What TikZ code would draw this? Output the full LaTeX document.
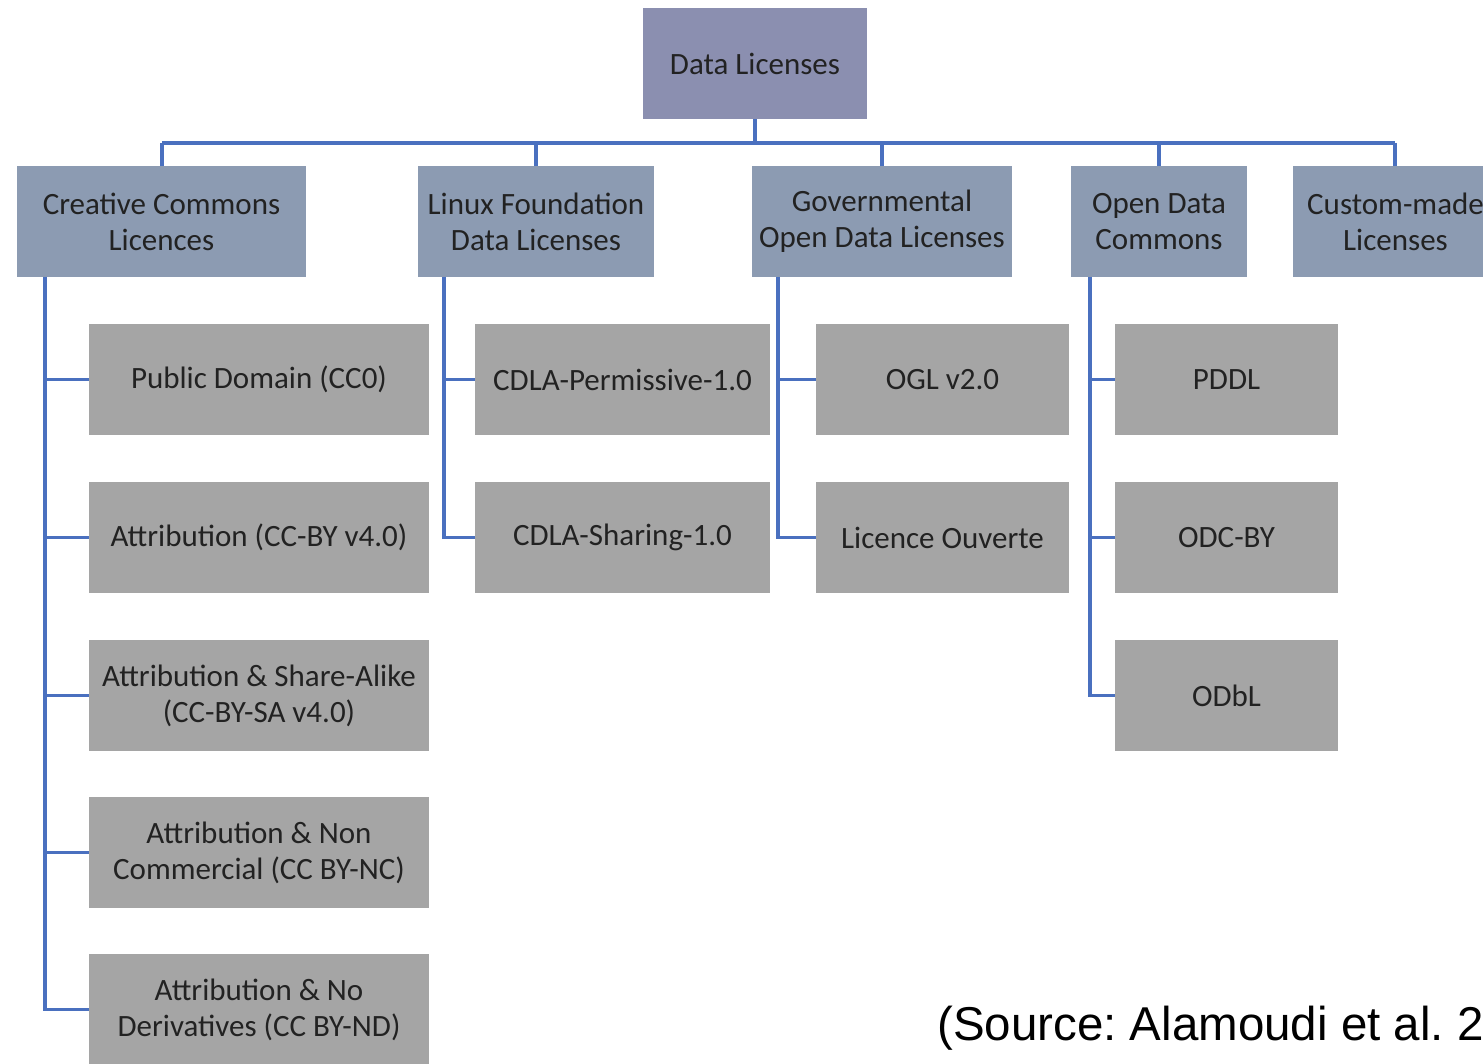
\documentclass[tikz,border=0pt]{standalone}
\usepackage{fontspec}
\setmainfont{Carlito}
\newfontfamily\srcfont{Liberation Sans}
\definecolor{rootfill}{HTML}{8B8FB0}
\definecolor{catfill}{HTML}{8C9BB2}
\definecolor{leaffill}{HTML}{A5A5A5}
\definecolor{linkblue}{HTML}{4A70BF}
\definecolor{txt}{HTML}{222222}
\begin{document}
\frenchspacing
\begin{tikzpicture}[x=1pt,y=-1pt,
  box/.style={rectangle,inner sep=0pt,align=center,text=txt,
    font=\fontsize{31}{36}\selectfont,minimum height=111pt},
  rootbox/.style={box,fill=rootfill},
  catbox/.style={box,fill=catfill},
  leafbox/.style={box,fill=leaffill},
  conn/.style={draw=linkblue,line width=3.8pt}]
\useasboundingbox (0,0) rectangle (1483,1064);
\clip (0,0) rectangle (1483,1064);
% root
\node[rootbox,minimum width=224pt] (root) at (755,63.5) {Data Licenses};
% categories
\node[catbox,minimum width=289pt] (cc) at (161.5,221.5) {Creative Commons\\Licences};
\node[catbox,minimum width=236pt] (lf) at (536,221.5) {Linux Foundation\\Data Licenses};
\node[catbox,minimum width=260pt] (gov) at (882,221.5) {Governmental\\Open Data Licenses};
\node[catbox,minimum width=176pt] (odc) at (1159,221.5) {Open Data\\Commons};
\node[catbox,minimum width=205pt] (cus) at (1395.5,221.5) {Custom-made\\Licenses};
% CC leaves
\node[leafbox,minimum width=340pt] (cc1) at (259,379.5) {Public Domain (CC0)};
\node[leafbox,minimum width=340pt] (cc2) at (259,537.5) {Attribution (CC-BY v4.0)};
\node[leafbox,minimum width=340pt] (cc3) at (259,695.5) {Attribution \& Share-Alike\\(CC-BY-SA v4.0)};
\node[leafbox,minimum width=340pt] (cc4) at (259,852.5) {Attribution \& Non\\Commercial (CC BY-NC)};
\node[leafbox,minimum width=340pt] (cc5) at (259,1009.5) {Attribution \& No\\Derivatives (CC BY-ND)};
% Linux leaves
\node[leafbox,minimum width=295pt] (lf1) at (622.5,379.5) {CDLA-Permissive-1.0};
\node[leafbox,minimum width=295pt] (lf2) at (622.5,537.5) {CDLA-Sharing-1.0};
% Gov leaves
\node[leafbox,minimum width=253pt] (gov1) at (942.5,379.5) {OGL v2.0};
\node[leafbox,minimum width=253pt] (gov2) at (942.5,537.5) {Licence Ouverte};
% ODC leaves
\node[leafbox,minimum width=223pt] (odc1) at (1226.5,379.5) {PDDL};
\node[leafbox,minimum width=223pt] (odc2) at (1226.5,537.5) {ODC-BY};
\node[leafbox,minimum width=223pt] (odc3) at (1226.5,695.5) {ODbL};
% bus coordinates
\coordinate (busL) at (162,143);
\coordinate (busR) at (1395,143);
\coordinate (ccv) at (45,277);
\coordinate (lfv) at (444,277);
\coordinate (govv) at (778,277);
\coordinate (odcv) at (1090,277);
% top connectors
\draw[conn] (root.south) -- (root.south |- busL);
\draw[conn] (busL) -- (busR);
\draw[conn] (busL) -- (cc.north -| busL);
\draw[conn] (lf.north) -- (lf.north |- busL);
\draw[conn] (gov.north) -- (gov.north |- busL);
\draw[conn] (odc.north) -- (odc.north |- busL);
\draw[conn] (busR) -- (cus.north -| busR);
% CC branch
\draw[conn] (ccv) |- (cc5.west);
\foreach \n in {cc1,cc2,cc3,cc4} \draw[conn] (\n.west) -- (\n.west -| ccv);
% Linux branch
\draw[conn] (lfv) |- (lf2.west);
\draw[conn] (lf1.west) -- (lf1.west -| lfv);
% Gov branch
\draw[conn] (govv) |- (gov2.west);
\draw[conn] (gov1.west) -- (gov1.west -| govv);
% ODC branch
\draw[conn] (odcv) |- (odc3.west);
\foreach \n in {odc1,odc2} \draw[conn] (\n.west) -- (\n.west -| odcv);
% source
\node[anchor=base west,inner sep=0pt,font=\srcfont\fontsize{47.5}{50}\selectfont] (src) at (937,1040) {(Source: Alamoudi et al. 2};
\end{tikzpicture}
\end{document}
